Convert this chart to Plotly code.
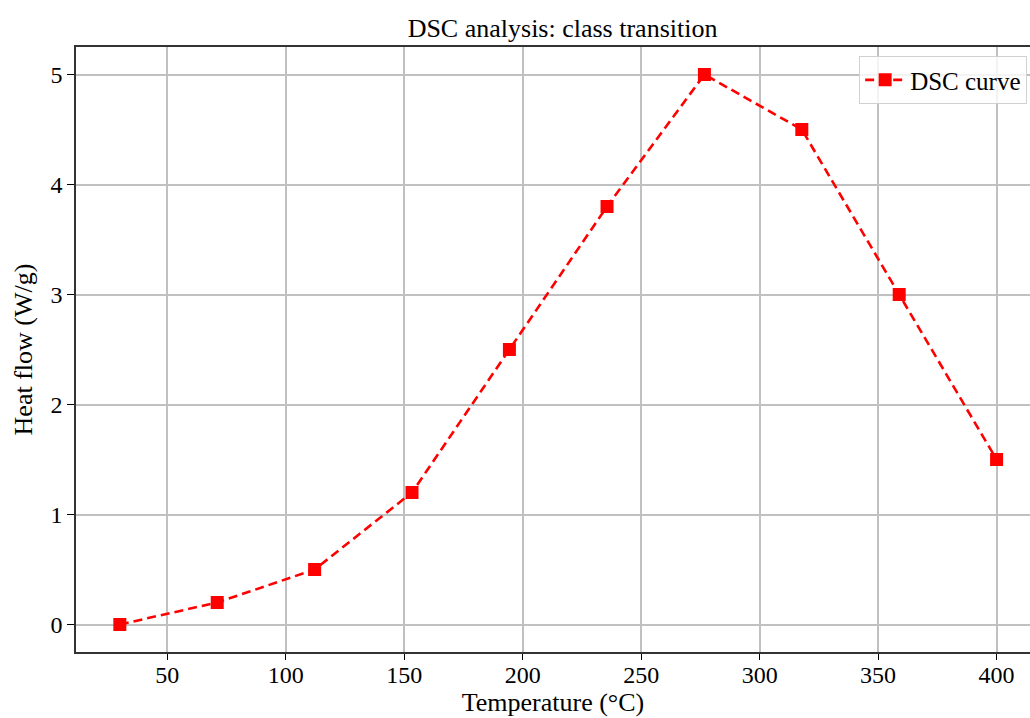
import plotly.graph_objects as go

temperature = [30, 71.1, 112.2, 153.3, 194.4, 235.6, 276.7, 317.8, 358.9, 400]
heat_flow = [0.0, 0.2, 0.5, 1.2, 2.5, 3.8, 5.0, 4.5, 3.0, 1.5]
x_ticks = [50, 100, 150, 200, 250, 300, 350, 400]
y_ticks = [0, 1, 2, 3, 4, 5]

font_family = "Liberation Serif, Times New Roman, serif"

fig = go.Figure()
fig.add_trace(go.Scatter(
    x=temperature, y=heat_flow, mode="lines+markers", name="DSC curve",
    line=dict(color="#ff0000", width=2.6, dash="9px,5px"),
    marker=dict(symbol="square", size=13, color="#ff0000"),
))

fig.update_layout(
    width=1030, height=718,
    margin=dict(l=76, r=0, t=47, b=66),
    paper_bgcolor="white", plot_bgcolor="white",
    font=dict(family=font_family, size=24, color="black"),
    title=dict(text="DSC analysis: class transition", x=0.51, xref="paper", xanchor="center",
               y=1, yref="paper", yanchor="bottom",
               pad=dict(b=10), font=dict(size=26)),
    showlegend=True,
    legend=dict(x=0.997, xanchor="right", y=0.985, yanchor="top",
                bgcolor="rgba(255,255,255,0.8)", bordercolor="#d0d0d0", borderwidth=1,
                font=dict(size=25), itemwidth=40),
)
fig.update_xaxes(
    range=[11.5, 414.1], tickvals=x_ticks, ticks="outside", ticklen=6, tickwidth=1.3,
    tickcolor="black", showline=True, linecolor="#333333", linewidth=1.6, mirror=True,
    showgrid=True, gridcolor="#c0c0c0", gridwidth=1.6, zeroline=False,
    ticklabelstandoff=-6,
    title=dict(text="Temperature (°C)", standoff=4, font=dict(size=26)),
)
fig.update_yaxes(
    range=[-0.25, 5.25], tickvals=y_ticks, ticks="outside", ticklen=7, tickwidth=1.3,
    tickcolor="black", showline=True, linecolor="#333333", linewidth=1.6, mirror=False,
    showgrid=True, gridcolor="#c0c0c0", gridwidth=1.6, zeroline=False,
    title=dict(text="Heat flow (W/g)", standoff=10, font=dict(size=26)),
)

fig.write_html("out.html")
